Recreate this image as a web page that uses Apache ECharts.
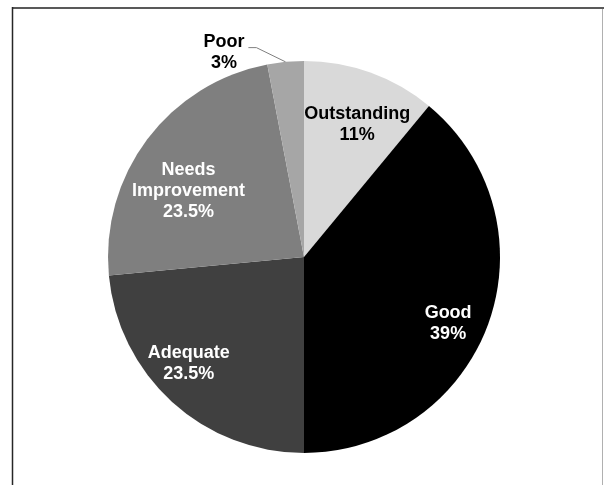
<!DOCTYPE html>
<html>
<head>
<meta charset="utf-8">
<script src="https://cdn.jsdelivr.net/npm/echarts@6/dist/echarts.min.js"></script>
<style>
  html, body { margin: 0; padding: 0; background: #fff; }
  #chart { width: 604px; height: 485px; }
</style>
</head>
<body>
<div id="chart"></div>
<script>
// Rating distribution
const categories = ['Outstanding', 'Good', 'Adequate', 'Needs Improvement', 'Poor'];
const shares = [11, 39, 23.5, 23.5, 3];
const sliceColors = ['#d9d9d9', '#000000', '#404040', '#7f7f7f', '#a6a6a6'];
const labelColors = ['#000000', '#ffffff', '#ffffff', '#ffffff', '#000000'];
// label anchor: fraction of the radius, and angular shift (deg) from the slice's mid-angle
const labelRadius = [0.73, 0.81, 0.80, 0.68, 1.12];
const labelShift = [2, 5, 5, -7, -16];

const CX = 304, CY = 257, R = 196;
const total = shares.reduce((a, b) => a + b, 0);
const midAngles = []; // clockwise from 12 o'clock, in degrees
let acc = 0;
shares.forEach(v => { midAngles.push((acc + v / 2) / total * 360); acc += v; });

function polar(ratio, deg) {
  const a = deg * Math.PI / 180;
  return [CX + R * ratio * Math.sin(a), CY - R * ratio * Math.cos(a)];
}

const data = categories.map((name, i) => {
  const outside = labelRadius[i] > 1;
  return {
    name: name,
    value: shares[i],
    itemStyle: { color: sliceColors[i] },
    label: { color: labelColors[i], position: outside ? 'outside' : 'inside' },
    labelLine: { show: outside, lineStyle: { color: '#7f7f7f', width: 1 } }
  };
});

const chart = echarts.init(document.getElementById('chart'), null, { renderer: 'canvas' });
chart.setOption({
  animation: false,
  backgroundColor: '#ffffff',
  graphic: [
    { type: 'line', shape: { x1: 12, y1: 8, x2: 604, y2: 8 }, style: { stroke: '#595959', lineWidth: 2 } },
    { type: 'line', shape: { x1: 12.5, y1: 7, x2: 12.5, y2: 485 }, style: { stroke: '#262626', lineWidth: 1.5 } },
    { type: 'line', shape: { x1: 602.5, y1: 9, x2: 602.5, y2: 485 }, style: { stroke: '#b0b0b0', lineWidth: 1 } }
  ],
  series: [{
    type: 'pie',
    center: [CX, CY],
    radius: R,
    startAngle: 90,
    clockwise: true,
    avoidLabelOverlap: false,
    silent: true,
    itemStyle: { borderWidth: 0 },
    emphasis: { disabled: true },
    label: {
      show: true,
      fontFamily: '"Liberation Sans", Arial, sans-serif',
      fontWeight: 'bold',
      fontSize: 18,
      lineHeight: 21,
      align: 'center',
      formatter: p => p.name.replace(' ', '\n') + '\n' + p.value + '%'
    },
    labelLayout: function (p) {
      const i = p.dataIndex;
      const pos = polar(labelRadius[i], midAngles[i] + labelShift[i]);
      const out = { x: pos[0], y: pos[1], align: 'center', verticalAlign: 'middle' };
      if (labelRadius[i] > 1) {
        const edge = polar(1, midAngles[i]);
        const end = [pos[0] + p.labelRect.width / 2 + 4, pos[1] - 5];
        out.labelLinePoints = [edge, [end[0] + 8, end[1]], end];
      }
      return out;
    },
    data: data
  }]
});
</script>
</body>
</html>
